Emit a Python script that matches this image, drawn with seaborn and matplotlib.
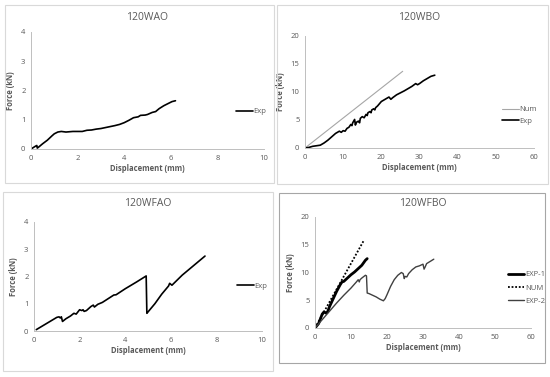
import pandas as pd
import seaborn as sns
import matplotlib
matplotlib.use("Agg")
import matplotlib.pyplot as plt
from matplotlib.patches import Rectangle

# 120WAO
wao_x = [0, 0.1, 0.2, 0.25, 0.27, 0.35, 0.5, 0.7, 0.9, 1.0, 1.15, 1.3, 1.5, 1.8, 2.0, 2.2, 2.4, 2.6,
         2.8, 3.0, 3.3, 3.6, 3.8, 4.0, 4.2, 4.4, 4.6, 4.7, 4.9, 5.0, 5.2, 5.35, 5.5, 5.7, 5.9, 6.05, 6.2]
wao_y = [0, 0.05, 0.1, 0.12, 0.03, 0.08, 0.18, 0.3, 0.45, 0.52, 0.58, 0.6, 0.58, 0.6, 0.6, 0.6, 0.64, 0.65,
         0.68, 0.7, 0.75, 0.8, 0.84, 0.9, 0.98, 1.07, 1.1, 1.15, 1.16, 1.18, 1.25, 1.28, 1.38, 1.48, 1.56, 1.62, 1.65]

# 120WBO
wbo_num_x = [0, 25.6]
wbo_num_y = [0, 13.7]
wbo_exp_x = [0, 1, 2, 4, 5, 6, 7, 8, 9, 9.5, 10, 10.5, 11, 11.5, 12, 12.3, 12.5, 13, 13.2, 13.5, 14, 14.3,
             14.5, 15, 15.5, 16, 16.3, 16.5, 17, 17.3, 17.5, 18, 18.3, 18.5, 19, 20, 21, 22, 22.5, 23, 24, 26,
             28, 29, 29.5, 30, 31, 32, 33, 34]
wbo_exp_y = [0, 0.1, 0.3, 0.5, 0.9, 1.4, 2.0, 2.6, 3.0, 2.8, 3.1, 3.0, 3.5, 3.7, 4.2, 4.0, 4.5, 5.1, 4.1, 4.6,
             4.8, 4.5, 5.3, 5.6, 5.4, 6.0, 5.8, 6.3, 6.5, 6.3, 6.8, 7.0, 6.8, 7.2, 7.5, 8.3, 8.7, 9.1, 8.7, 9.0,
             9.5, 10.2, 11.0, 11.5, 11.3, 11.5, 12.0, 12.4, 12.8, 13.0]

# 120WFAO
wfao_x = [0.1, 0.5, 1.0, 1.1, 1.15, 1.2, 1.25, 1.4, 1.6, 1.75, 1.85, 2.0, 2.1, 2.15, 2.2, 2.3, 2.5, 2.6,
          2.65, 2.8, 3.0, 3.5, 3.6, 4.0, 4.5, 4.92, 4.95, 5.0, 5.3, 5.6, 5.9, 5.95, 6.05, 6.5, 7.0, 7.5]
wfao_y = [0.05, 0.25, 0.5, 0.52, 0.48, 0.52, 0.35, 0.45, 0.55, 0.65, 0.62, 0.78, 0.75, 0.78, 0.72, 0.75, 0.9, 0.95,
          0.88, 0.98, 1.05, 1.32, 1.33, 1.55, 1.8, 2.02, 0.65, 0.7, 1.0, 1.35, 1.65, 1.75, 1.68, 2.05, 2.4, 2.75]

# 120WFBO
wfbo_e1_x = [0, 1, 2, 2.5, 3, 3.5, 4, 5, 6, 7, 7.5, 8, 9, 10, 11, 12, 13, 14, 14.5]
wfbo_e1_y = [0, 0.8, 2.5, 2.9, 2.7, 2.9, 3.8, 5.2, 6.6, 7.8, 8.3, 8.4, 9.0, 9.6, 10.1, 10.7, 11.3, 12.2, 12.5]
wfbo_num_x = [0, 13.5]
wfbo_num_y = [0, 15.7]
wfbo_e2_x = [0, 2, 4, 6, 8, 10, 11.5, 12, 12.3, 12.5, 13, 14, 14.3, 14.5, 15, 16, 17, 18, 19, 19.5, 20, 21,
             22, 23, 24, 24.5, 24.8, 25, 25.5, 26, 27, 28, 29, 30, 30.3, 30.6, 31, 32, 33]
wfbo_e2_y = [0, 1.5, 3.0, 4.5, 5.9, 7.2, 8.3, 8.7, 8.3, 8.7, 9.0, 9.5, 9.4, 6.3, 6.2, 5.9, 5.6, 5.2, 4.9, 5.3,
             6.0, 7.5, 8.7, 9.5, 10.0, 9.8, 8.9, 9.3, 9.2, 9.8, 10.5, 11.0, 11.2, 11.5, 10.6, 11.0, 11.6, 12.0, 12.4]

sns.set_style("white")
plt.rcParams['font.family'] = ['Open Sans', 'DejaVu Sans']

txt = "#595959"
fig = plt.figure(figsize=(5.5, 3.77), dpi=100)
W, H = 550, 377

# chart boxes (pixels: x0, y0, x1, y1)
boxes = [(5, 5, 274, 183, "#d9d9d9"), (277, 5, 548, 184, "#d9d9d9"),
         (3, 192, 273, 371, "#d9d9d9"), (279, 193, 545, 363, "#a6a6a6")]
for x0, y0, x1, y1, c in boxes:
    fig.patches.append(Rectangle((x0 / W, 1 - y1 / H), (x1 - x0) / W, (y1 - y0) / H,
                                 transform=fig.transFigure, fill=False, edgecolor=c, linewidth=0.8))


def make_ax(px, title, xmax, ymax, xstep, ystep, title_y):
    x0, y0, x1, y1 = px
    ax = fig.add_axes([x0 / W, 1 - y0 / H, (x1 - x0) / W, (y0 - y1) / H])
    ax.set_xlim(0, xmax)
    ax.set_ylim(0, ymax)
    ax.set_xticks(range(0, xmax + 1, xstep))
    ax.set_yticks(range(0, ymax + 1, ystep))
    sns.despine(ax=ax)
    for s in ["left", "bottom"]:
        ax.spines[s].set_color("#bfbfbf")
        ax.spines[s].set_linewidth(0.7)
    ax.tick_params(axis="x", length=2, width=0.6, color="#bfbfbf", labelsize=5.5, labelcolor=txt, pad=2)
    ax.tick_params(axis="y", length=0, labelsize=5.5, labelcolor=txt, pad=4)
    ax.set_xlabel("Displacement (mm)", fontsize=5.5, color=txt, fontweight="bold", labelpad=2)
    ax.set_ylabel("Force (kN)", fontsize=5.5, color=txt, fontweight="bold", labelpad=4)
    fig.text((x0 + x1) / 2 / W, 1 - title_y / H, title, ha="center", va="center", fontsize=7.5, color=txt)
    return ax


def legend(ax, x, y, spacing=0.9):
    lg = ax.legend(loc="center left", bbox_to_anchor=(x, y), frameon=False, fontsize=5.5,
                   handlelength=2.2, handletextpad=0.1, labelspacing=spacing)
    for t in lg.get_texts():
        t.set_color(txt)


# panel 1
ax1 = make_ax((31, 149, 264, 32), "120WAO", 10, 4, 2, 1, 17)
sns.lineplot(x=wao_x, y=wao_y, ax=ax1, color="black", linewidth=1.2, sort=False, estimator=None, label="Exp")
legend(ax1, 0.85, 0.32)

# panel 2
ax2 = make_ax((305, 148, 534, 36), "120WBO", 60, 20, 10, 5, 17)
sns.lineplot(x=wbo_num_x, y=wbo_num_y, ax=ax2, color="#a6a6a6", linewidth=0.8, sort=False, estimator=None, label="Num")
sns.lineplot(x=wbo_exp_x, y=wbo_exp_y, ax=ax2, color="black", linewidth=1.2, sort=False, estimator=None, label="Exp")
legend(ax2, 0.83, 0.29, 0.6)

# panel 3
ax3 = make_ax((34, 331, 262, 222), "120WFAO", 10, 4, 2, 1, 204)
sns.lineplot(x=wfao_x, y=wfao_y, ax=ax3, color="black", linewidth=1.2, sort=False, estimator=None, label="Exp")
legend(ax3, 0.86, 0.41)

# panel 4
ax4 = make_ax((315, 328, 531, 217), "120WFBO", 60, 20, 10, 5, 204)
sns.lineplot(x=wfbo_e1_x, y=wfbo_e1_y, ax=ax4, color="black", linewidth=2.0, sort=False, estimator=None, label="EXP-1")
sns.lineplot(x=wfbo_num_x, y=wfbo_num_y, ax=ax4, color="black", linewidth=1.3, linestyle=(0, (1, 1)),
             sort=False, estimator=None, label="NUM")
sns.lineplot(x=wfbo_e2_x, y=wfbo_e2_y, ax=ax4, color="#404040", linewidth=1.0, sort=False, estimator=None, label="EXP-2")
legend(ax4, 0.86, 0.36, 0.8)

fig.savefig("out.png", dpi=100)
